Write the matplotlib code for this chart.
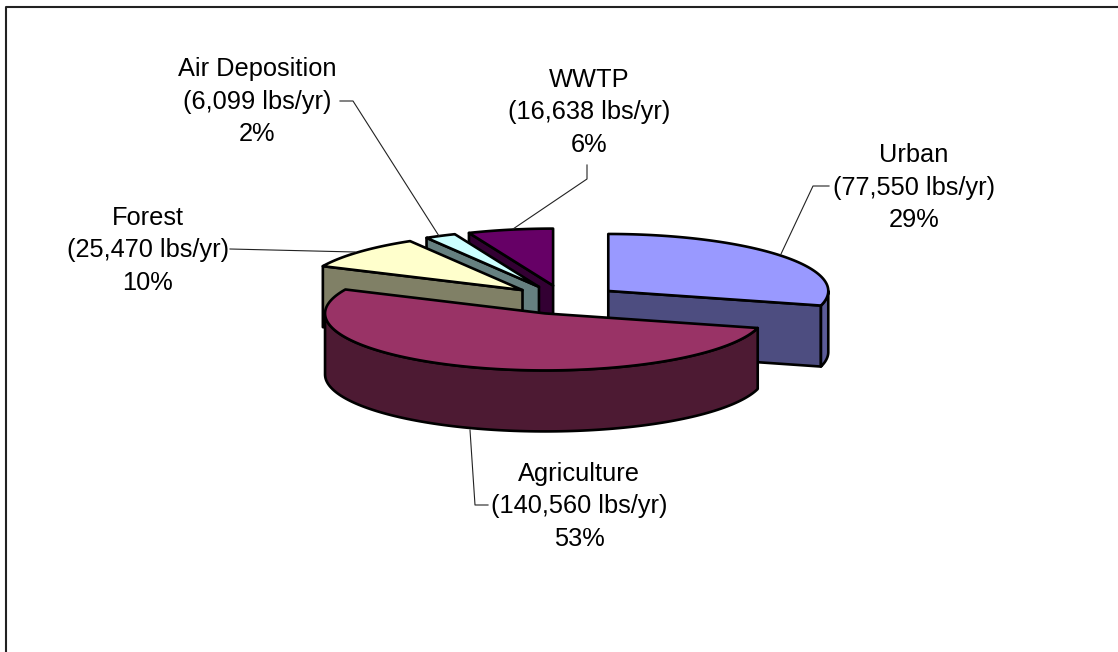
import numpy as np
import matplotlib
matplotlib.use('Agg')
import matplotlib.pyplot as plt

sources = ['Urban', 'Agriculture', 'Forest', 'Air Deposition', 'WWTP']
loads = [77550, 140560, 25470, 6099, 16638]

top_colors = ['#9999FF', '#993366', '#FFFFCC', '#CCFFFF', '#660066']
side_colors = ['#4D4D80', '#4D1A33', '#808066', '#668080', '#330033']
rim_colors = ['#5C5C99', '#4D1A33', '#808066', '#668080', '#330033']

# pie layout in pixels
cx, cy = 564, 299.8
rx, ry = 220, 57
depth = 61
explode = 0.254

# label centres and leader lines, same order as sources
label_pos = [(914, 187.5), (579, 506.5), (148, 250.5), (257, 101.5), (589, 112.5)]
leaders = [
    [(829, 186), (813, 186), (781, 254)],
    [(488, 505), (475, 505), (470, 430)],
    [(230, 249), (355, 252)],
    [(340, 101), (353, 101), (439, 236)],
    [(587, 165), (587, 179), (513, 229)],
]

fig = plt.figure(figsize=(11.18, 6.52), dpi=100)
ax = fig.add_axes([0, 0, 1, 1])
ax.set_xlim(0, 1118)
ax.set_ylim(652, 0)
ax.axis('off')

ax.plot([5.5, 5.5, 1118], [652, 6.5, 6.5], color='#222222', lw=1.5, clip_on=False)

total = sum(loads)
edges = np.concatenate([[0], np.cumsum(loads)]) / total * 360


def rim(ox, oy, a1, a2, drop=0):
    t = np.radians(np.linspace(a1, a2, 120))
    return ox + rx * np.sin(t), oy - ry * np.cos(t) + drop


def poly(xs, ys, color, z):
    ax.fill(xs, ys, facecolor=color, edgecolor='black', lw=1.9, joinstyle='round', zorder=z)


# back slices first, agriculture last
for z, i in enumerate([4, 3, 2, 0, 1]):
    a1, a2 = edges[i], edges[i + 1]
    mid = np.radians((a1 + a2) / 2)
    ox = cx + explode * rx * np.sin(mid)
    oy = cy - explode * ry * np.cos(mid)

    # radial wall: start edge on the left side, end edge on the right side
    wall = a1 if a1 > 180 else a2
    if a1 > 180 or a2 < 180:
        wx, wy = rim(ox, oy, wall, wall)
        xs = [ox, wx[0], wx[0], ox]
        ys = [oy, wy[0], wy[0] + depth, oy + depth]
        poly(xs, ys, side_colors[i], z * 3)

    # outer wall, only the front half can be seen
    f1, f2 = max(a1, 90), min(a2, 270)
    if f2 > f1:
        x1, y1 = rim(ox, oy, f1, f2)
        x2, y2 = rim(ox, oy, f2, f1, depth)
        poly(np.concatenate([x1, x2]), np.concatenate([y1, y2]), rim_colors[i], z * 3 + 1)

    tx, ty = rim(ox, oy, a1, a2)
    poly(np.concatenate([[ox], tx]), np.concatenate([[oy], ty]), top_colors[i], z * 3 + 2)

for i in range(len(sources)):
    pct = round(loads[i] / total * 100)
    text = sources[i] + '\n(' + format(loads[i], ',') + ' lbs/yr)\n' + str(pct) + '%'
    ax.text(label_pos[i][0], label_pos[i][1], text, family='Liberation Sans', fontsize=18.3,
            ha='center', va='center', linespacing=1.44, color='black', zorder=30)
    lx = [p[0] for p in leaders[i]]
    ly = [p[1] for p in leaders[i]]
    ax.plot(lx, ly, color='#222222', lw=0.8, zorder=29)

fig.savefig('out.png', dpi=100, facecolor='white')
